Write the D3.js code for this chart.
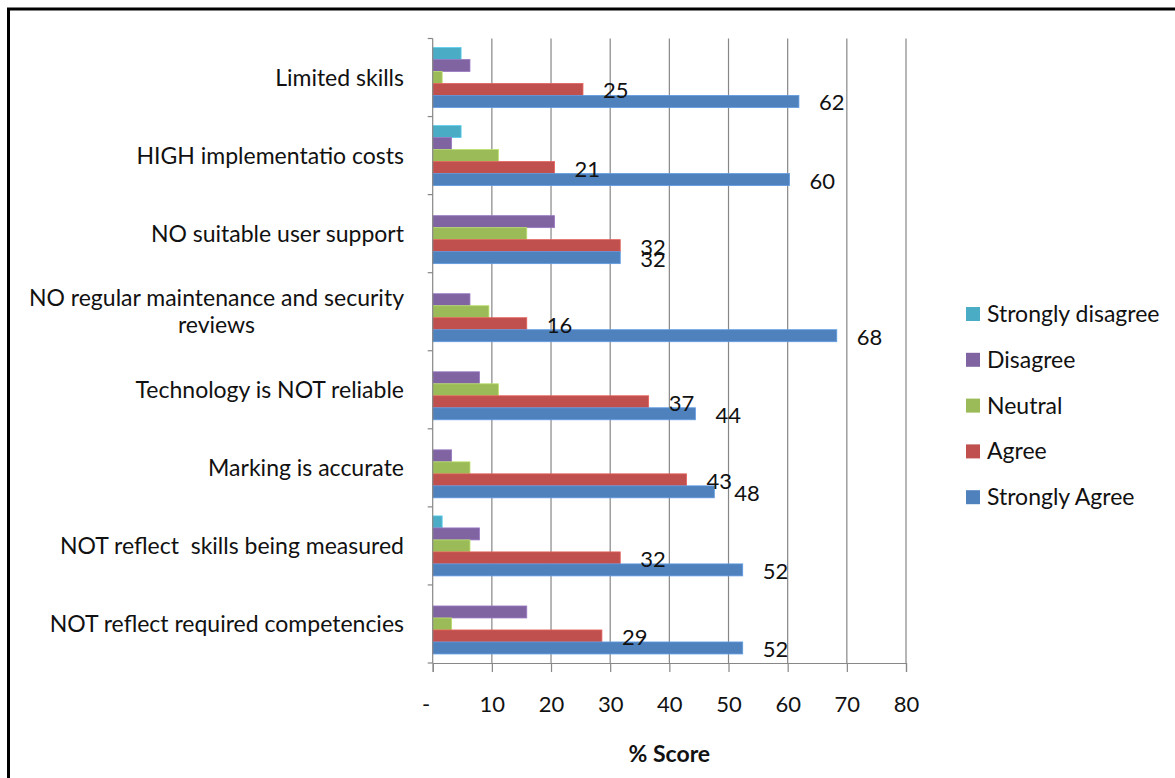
<!DOCTYPE html>
<html>
<head>
<meta charset="utf-8">
<script src="https://cdn.jsdelivr.net/npm/d3@7"></script>
<style>
  html, body { margin: 0; padding: 0; background: #fff; }
  svg { display: block; font-family: Lato, "Open Sans", sans-serif; }
</style>
</head>
<body>
<svg id="chart" width="1175" height="778"></svg>
<script>
const categories = [
  "Limited skills",
  "HIGH implementatio costs",
  "NO suitable user support",
  "NO regular maintenance and security|reviews",
  "Technology is NOT reliable",
  "Marking is accurate",
  "NOT reflect  skills being measured",
  "NOT reflect required competencies"
];
const seriesNames = ["Strongly disagree", "Disagree", "Neutral", "Agree", "Strongly Agree"];
const stronglyDisagree = [4.8, 4.8, 0, 0, 0, 0, 1.6, 0];
const disagree        = [6.3, 3.2, 20.6, 6.3, 7.9, 3.2, 7.9, 15.9];
const neutral         = [1.6, 11.1, 15.9, 9.5, 11.1, 6.3, 6.3, 3.2];
const agree           = [25.4, 20.6, 31.7, 15.9, 36.5, 42.9, 31.7, 28.6];
const stronglyAgree   = [61.9, 60.3, 31.7, 68.3, 44.4, 47.6, 52.4, 52.4];
const xTicks = [0, 10, 20, 30, 40, 50, 60, 70, 80];
const labelledSeries = ["Agree", "Strongly Agree"];
const colors = ["#4BACC6", "#8064A2", "#9BBB59", "#C0504D", "#4F81BD"];
const axisTitle = "% Score";

const seriesValues = [stronglyDisagree, disagree, neutral, agree, stronglyAgree];
const svg = d3.select("#chart");

// outer border
svg.append("rect").attr("x", 8.5).attr("y", 9).attr("width", 1300).attr("height", 900)
  .attr("fill", "none").attr("stroke", "#000").attr("stroke-width", 3);

const x = d3.scaleLinear().domain([0, 80]).range([432.7, 906]);
const y0 = d3.scaleBand().domain(categories).range([38.5, 663])
  .paddingInner(0.2317).paddingOuter(0.1158);
const y1 = d3.scaleBand().domain(seriesNames).range([0, y0.bandwidth()]);
const color = d3.scaleOrdinal().domain(seriesNames).range(colors);

// gridlines
svg.append("g").selectAll("line").data(xTicks.filter(d => d > 0)).join("line")
  .attr("x1", d => x(d)).attr("x2", d => x(d))
  .attr("y1", 38.5).attr("y2", 663)
  .attr("stroke", "#878787").attr("stroke-width", 1.2);

// bars
const rows = [];
categories.forEach((c, i) => {
  seriesNames.forEach((s, j) => rows.push({cat: c, series: s, value: seriesValues[j][i]}));
});
svg.append("g").selectAll("rect").data(rows.filter(r => r.value > 0)).join("rect")
  .attr("x", x(0))
  .attr("y", d => y0(d.cat) + y1(d.series))
  .attr("width", d => x(d.value) - x(0))
  .attr("height", y1.bandwidth())
  .attr("fill", d => color(d.series))
  .attr("stroke", d => d3.color(color(d.series)).brighter(0.5))
  .attr("stroke-width", 0.8);

// data labels
svg.append("g").selectAll("text").data(rows.filter(r => labelledSeries.includes(r.series))).join("text")
  .attr("x", d => x(d.value) + 20)
  .attr("y", d => y0(d.cat) + y1(d.series) + y1.bandwidth() / 2 + 1)
  .attr("dy", "0.36em")
  .attr("font-size", 22)
  .attr("fill", "#111")
  .text(d => d3.format(".0f")(d.value));

// x axis
const xAxis = d3.axisBottom(x).tickValues(xTicks)
  .tickFormat(d => d === 0 ? "-" : d)
  .tickSize(9).tickPadding(24);
const gx = svg.append("g").attr("transform", "translate(0,663)").call(xAxis);
gx.select(".domain").attr("stroke", "#878787").attr("stroke-width", 1.2);
gx.selectAll(".tick line").attr("stroke", "#878787").attr("stroke-width", 1.2);
gx.selectAll(".tick text").attr("font-size", 22).attr("fill", "#111")
  .attr("font-family", "Lato, sans-serif")
  .attr("dx", d => d === 0 ? -7 : 0);

// y axis line + ticks
const gy = svg.append("g").attr("transform", `translate(${x(0)},0)`);
gy.append("line").attr("x1", 0).attr("x2", 0).attr("y1", 38.5).attr("y2", 663)
  .attr("stroke", "#878787").attr("stroke-width", 1.2);
const step = y0.step();
gy.selectAll("line.tk").data(d3.range(categories.length + 1)).join("line")
  .attr("class", "tk")
  .attr("x1", -5).attr("x2", 0)
  .attr("y1", i => 38.5 + i * step).attr("y2", i => 38.5 + i * step)
  .attr("stroke", "#878787").attr("stroke-width", 1.2);

// category labels
const catG = svg.append("g");
categories.forEach(c => {
  const lines = c.split("|");
  const cy = y0(c) + y0.bandwidth() / 2;
  const lh = 27;
  const t = catG.append("text").attr("font-size", 23).attr("fill", "#111")
    .style("white-space", "pre");
  const tspans = lines.map((l, k) => t.append("tspan")
    .attr("y", cy + (k - (lines.length - 1) / 2) * lh)
    .attr("dy", "0.35em").text(l));
  const widths = tspans.map(ts => ts.node().getComputedTextLength());
  const w = Math.max(...widths);
  const right = 404;
  tspans.forEach((ts, k) => {
    ts.attr("x", right - w / 2).attr("text-anchor", "middle");
  });
});

// axis title
svg.append("text").attr("x", (x(0) + x(80)) / 2).attr("y", 762)
  .attr("text-anchor", "middle").attr("font-size", 23).attr("font-weight", "bold")
  .attr("fill", "#111").text(axisTitle);

// legend
const lg = svg.append("g");
seriesNames.forEach((s, i) => {
  const cy = 314 + i * 45.8;
  lg.append("rect").attr("x", 966).attr("y", cy - 7).attr("width", 14).attr("height", 14)
    .attr("fill", color(s));
  lg.append("text").attr("x", 987).attr("y", cy).attr("dy", "0.35em")
    .attr("font-size", 23).attr("fill", "#111").text(s);
});
</script>
</body>
</html>
